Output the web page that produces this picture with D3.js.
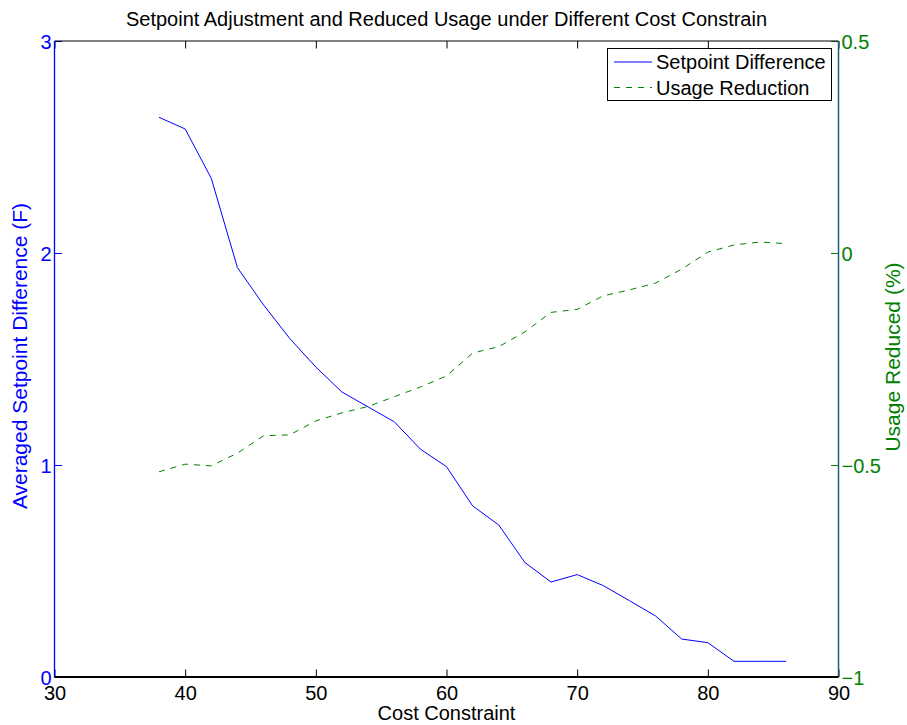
<!DOCTYPE html>
<html>
<head>
<meta charset="utf-8">
<script src="https://cdn.jsdelivr.net/npm/d3@7"></script>
<style>
  html, body { margin: 0; padding: 0; background: #fff; }
  svg { display: block; font-family: "Liberation Sans", Arial, Helvetica, sans-serif; }
</style>
</head>
<body>
<svg id="chart" width="907" height="725"></svg>
<script>
// Cost constraint levels
const costConstraint = [38, 40, 42, 44, 46, 48, 50, 52, 54, 56, 58, 60, 62, 64, 66, 68, 70, 72, 74, 76, 78, 80, 82, 84, 86];
// Averaged setpoint difference (F)
const setpointDifference = [2.64, 2.585, 2.352, 1.931, 1.755, 1.597, 1.462, 1.344, 1.274, 1.204, 1.075, 0.992, 0.807, 0.717, 0.540, 0.448, 0.483, 0.431, 0.360, 0.288, 0.179, 0.162, 0.074, 0.074, 0.074];
// Usage reduced (%)
const usageReduction = [-0.516, -0.498, -0.502, -0.472, -0.431, -0.429, -0.396, -0.377, -0.362, -0.339, -0.316, -0.290, -0.236, -0.221, -0.186, -0.140, -0.133, -0.101, -0.087, -0.071, -0.038, 0.002, 0.019, 0.026, 0.022];

const xTicks = [30, 40, 50, 60, 70, 80, 90];
const leftTicks = [0, 1, 2, 3];
const rightTicks = [-1, -0.5, 0, 0.5];
const rightTickLabels = ["\u22121", "\u22120.5", "0", "0.5"];

const titleText = "Setpoint Adjustment and Reduced Usage under Different Cost Constrain";
const xLabel = "Cost Constraint";
const leftLabel = "Averaged Setpoint Difference (F)";
const rightLabel = "Usage Reduced (%)";
const legendLabels = ["Setpoint Difference", "Usage Reduction"];

const BLUE = "#0000ff";
const GREEN = "#008000";
const FONT = "Liberation Sans, Arial, Helvetica, sans-serif";

const plot = { left: 54.5, right: 838.5, top: 41, bottom: 677 };

const svg = d3.select("#chart");

const x = d3.scaleLinear().domain([30, 90]).range([plot.left, plot.right]);
const yL = d3.scaleLinear().domain([0, 3]).range([plot.bottom, plot.top]);
const yR = d3.scaleLinear().domain([-1, 0.5]).range([plot.bottom, plot.top]);

const tickLen = 7.5;
const tickFont = 20;
const labelFont = 20;
const yLabelFont = 21;

// Bottom axis: inward ticks, labels below
const gx = svg.append("g").attr("transform", `translate(0,${plot.bottom})`)
  .call(d3.axisBottom(x).tickValues(xTicks).tickSize(-tickLen).tickPadding(0).tickFormat(d3.format("d")));
gx.select(".domain").remove();
gx.selectAll(".tick line").attr("stroke", "#000");
gx.selectAll(".tick text").attr("fill", "#000").attr("font-size", tickFont).attr("font-family", FONT)
  .attr("y", 23).attr("dy", null);

// Top axis: mirrored ticks only
const gxt = svg.append("g").attr("transform", `translate(0,${plot.top})`)
  .call(d3.axisTop(x).tickValues(xTicks).tickSize(-tickLen).tickFormat(""));
gxt.select(".domain").remove();
gxt.selectAll(".tick line").attr("stroke", "#000");

// Left axis (blue)
const gyl = svg.append("g").attr("transform", `translate(${plot.left},0)`)
  .call(d3.axisLeft(yL).tickValues(leftTicks).tickSize(-tickLen).tickFormat(d3.format("d")));
gyl.select(".domain").remove();
gyl.selectAll(".tick line").attr("stroke", BLUE);
gyl.selectAll(".tick text").attr("fill", BLUE).attr("font-size", tickFont).attr("font-family", FONT)
  .attr("x", -3).attr("dy", "0.36em");

// Right axis (green)
const gyr = svg.append("g").attr("transform", `translate(${plot.right},0)`)
  .call(d3.axisRight(yR).tickValues(rightTicks).tickSize(-tickLen).tickFormat((d, i) => rightTickLabels[i]));
gyr.select(".domain").remove();
gyr.selectAll(".tick line").attr("stroke", GREEN);
gyr.selectAll(".tick text").attr("fill", GREEN).attr("font-size", tickFont).attr("font-family", FONT)
  .attr("x", 3).attr("dy", "0.36em");

// Frame lines
svg.append("line").attr("x1", plot.left).attr("x2", plot.right).attr("y1", plot.top).attr("y2", plot.top)
  .attr("stroke", "#000").attr("stroke-width", 1);
svg.append("line").attr("x1", plot.left).attr("x2", plot.left).attr("y1", plot.top).attr("y2", plot.bottom)
  .attr("stroke", BLUE).attr("stroke-width", 1.3);
svg.append("line").attr("x1", plot.right).attr("x2", plot.right).attr("y1", plot.top).attr("y2", plot.bottom)
  .attr("stroke", "#1c5c78").attr("stroke-width", 1.5);
svg.append("line").attr("x1", plot.left).attr("x2", plot.right).attr("y1", plot.bottom).attr("y2", plot.bottom)
  .attr("stroke", "#000").attr("stroke-width", 2);

// Series lines
const lineL = d3.line().x((d, i) => x(costConstraint[i])).y(d => yL(d));
const lineR = d3.line().x((d, i) => x(costConstraint[i])).y(d => yR(d));

svg.append("path").datum(setpointDifference).attr("d", lineL)
  .attr("fill", "none").attr("stroke", BLUE).attr("stroke-width", 1);
svg.append("path").datum(usageReduction).attr("d", lineR)
  .attr("fill", "none").attr("stroke", GREEN).attr("stroke-width", 1).attr("stroke-dasharray", "6,6");

// Title and axis labels
const midY = (plot.top + plot.bottom) / 2;
svg.append("text").attr("x", (plot.left + plot.right) / 2).attr("y", 26)
  .attr("text-anchor", "middle").attr("font-size", labelFont).attr("fill", "#000").text(titleText);
svg.append("text").attr("x", (plot.left + plot.right) / 2).attr("y", 720)
  .attr("text-anchor", "middle").attr("font-size", labelFont).attr("fill", "#000").text(xLabel);
svg.append("text").attr("transform", `translate(27,${midY - 3}) rotate(-90)`)
  .attr("text-anchor", "middle").attr("font-size", yLabelFont).attr("fill", BLUE).text(leftLabel);
svg.append("text").attr("transform", `translate(900,${midY - 2}) rotate(-90)`)
  .attr("text-anchor", "middle").attr("font-size", yLabelFont).attr("fill", GREEN).text(rightLabel);

// Legend
const legend = svg.append("g");
legend.append("rect").attr("x", 607.5).attr("y", 48.5).attr("width", 224).attr("height", 52)
  .attr("fill", "#fff").attr("stroke", "#000").attr("stroke-width", 1);
const legendItems = [
  { label: legendLabels[0], color: BLUE, dash: null, y: 62 },
  { label: legendLabels[1], color: GREEN, dash: "6,6", y: 87.5 }
];
legendItems.forEach(item => {
  legend.append("line").attr("x1", 614).attr("x2", 652).attr("y1", item.y).attr("y2", item.y)
    .attr("stroke", item.color).attr("stroke-width", 1).attr("stroke-dasharray", item.dash);
  legend.append("text").attr("x", 656).attr("y", item.y).attr("dy", "0.36em")
    .attr("font-size", labelFont).attr("fill", "#000").text(item.label);
});
</script>
</body>
</html>
